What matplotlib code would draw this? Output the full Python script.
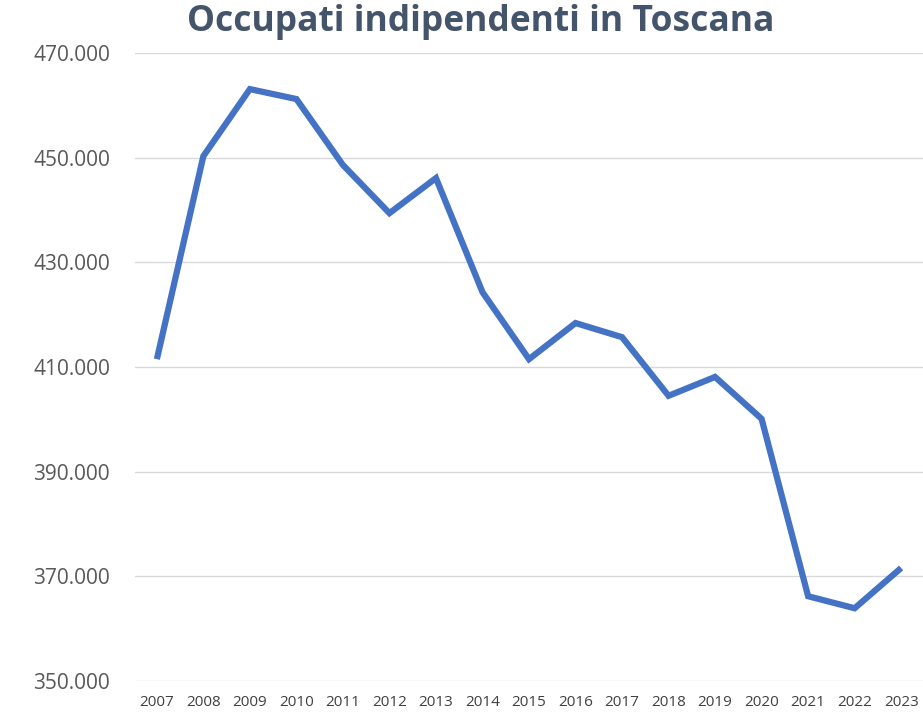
import matplotlib.pyplot as plt
from matplotlib.ticker import FuncFormatter

years = [str(y) for y in range(2007, 2024)]
occupati = [411.5, 450.3, 463.1, 461.2, 448.6, 439.4, 446.1, 424.3, 411.5,
            418.4, 415.7, 404.5, 408.1, 400.1, 366.2, 363.9, 371.6]
yticks = [350, 370, 390, 410, 430, 450, 470]

plt.rcParams['font.family'] = ['Open Sans', 'DejaVu Sans']

fig = plt.figure(figsize=(9.23, 7.13), dpi=100)
ax = fig.add_axes([135/923, 1 - 681/713, 788/923, 628/713])

x = list(range(len(years)))
ax.plot(x, occupati, color='#4472C4', lw=4.5, solid_joinstyle='miter',
        solid_capstyle='butt', zorder=3)

ax.set_xlim(-0.47, len(years) - 0.53)
ax.set_ylim(350, 470)
ax.set_yticks(yticks)
ax.yaxis.set_major_formatter(FuncFormatter(lambda v, p: '{:.3f}'.format(v / 1)))
ax.set_xticks(x)
ax.set_xticklabels(years)

ax.grid(axis='y', color='#D9D9D9', lw=1)
ax.set_axisbelow(True)
for s in ax.spines.values():
    s.set_visible(False)
ax.tick_params(length=0)
ax.tick_params(axis='y', labelsize=15, labelcolor='#595959', pad=18)
ax.tick_params(axis='x', labelsize=11, labelcolor='#404040', pad=10)

fig.text(0.521, 0.969, 'Occupati indipendenti in Toscana', ha='center', va='center',
         fontsize=25.5, fontweight='bold', color='#44546A')

fig.savefig('out.png')
